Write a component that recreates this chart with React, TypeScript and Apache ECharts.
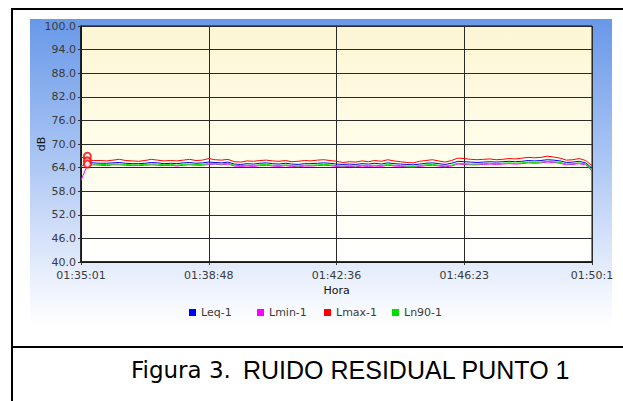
import React, { useEffect, useRef } from "react";
import * as echarts from "echarts";

const times = [
  "01:35:01", "01:35:12", "01:35:24", "01:35:35", "01:35:46", "01:35:58", "01:36:09", "01:36:21", "01:36:32", "01:36:43",
  "01:36:55", "01:37:06", "01:37:17", "01:37:29", "01:37:40", "01:37:51", "01:38:03", "01:38:14", "01:38:26", "01:38:37",
  "01:38:48", "01:39:00", "01:39:11", "01:39:22", "01:39:34", "01:39:45", "01:39:56", "01:40:08", "01:40:19", "01:40:31",
  "01:40:42", "01:40:53", "01:41:05", "01:41:16", "01:41:27", "01:41:39", "01:41:50", "01:42:01", "01:42:13", "01:42:24",
  "01:42:36", "01:42:47", "01:42:58", "01:43:10", "01:43:21", "01:43:32", "01:43:44", "01:43:55", "01:44:06", "01:44:18",
  "01:44:29", "01:44:40", "01:44:52", "01:45:03", "01:45:15", "01:45:26", "01:45:37", "01:45:49", "01:46:00", "01:46:11",
  "01:46:23", "01:46:34", "01:46:45", "01:46:57", "01:47:08", "01:47:20", "01:47:31", "01:47:42", "01:47:54", "01:48:05",
  "01:48:16", "01:48:28", "01:48:39", "01:48:50", "01:49:02", "01:49:13", "01:49:25", "01:49:36", "01:49:47", "01:49:59",
  "01:50:10",
];

const leq = [
  64.3, 65.3, 65.2, 65.1, 65.1, 65.2, 65.3, 65.1, 65.0, 65.0,
  65.1, 65.3, 65.2, 65.0, 65.1, 65.0, 65.2, 65.3, 65.1, 65.2,
  65.4, 65.3, 65.2, 65.4, 64.9, 64.8, 65.0, 64.9, 65.1, 65.2,
  65.0, 64.9, 65.1, 64.9, 64.8, 65.0, 65.0, 65.1, 65.2, 65.1,
  64.9, 64.8, 64.9, 64.8, 65.0, 64.9, 65.1, 64.9, 65.2, 65.0,
  64.9, 64.8, 64.7, 64.9, 65.1, 65.2, 65.0, 64.8, 65.1, 65.6,
  65.5, 65.4, 65.3, 65.4, 65.5, 65.4, 65.5, 65.6, 65.5, 65.6,
  65.8, 65.7, 65.8, 66.0, 65.9, 65.7, 65.3, 65.4, 65.6, 65.2,
  63.9,
];

const lmin = [
  60.8, 64.6, 64.7, 64.6, 64.5, 64.7, 64.7, 64.6, 64.5, 64.5,
  64.6, 64.7, 64.6, 64.5, 64.6, 64.4, 64.6, 64.7, 64.6, 64.6,
  64.8, 64.9, 64.7, 64.9, 64.4, 64.3, 64.4, 64.3, 64.5, 64.6,
  64.4, 64.3, 64.5, 64.3, 64.2, 64.4, 64.4, 64.5, 64.6, 64.5,
  64.3, 64.2, 64.3, 64.2, 64.4, 64.3, 64.4, 64.3, 64.6, 64.4,
  64.3, 64.2, 64.1, 64.3, 64.5, 64.6, 64.4, 64.2, 64.4, 64.9,
  64.8, 64.7, 64.7, 64.8, 64.9, 64.8, 64.9, 65.0, 64.9, 65.0,
  65.2, 65.1, 65.2, 65.4, 65.3, 65.1, 64.7, 64.8, 65.0, 64.7,
  63.1,
];

const lmax = [
  66.8, 65.9, 65.8, 65.8, 65.7, 65.9, 66.1, 65.8, 65.7, 65.6,
  65.8, 66.1, 65.9, 65.7, 65.8, 65.7, 65.9, 66.1, 65.8, 65.9,
  66.3, 66.0, 65.9, 66.1, 65.5, 65.4, 65.7, 65.6, 65.8, 65.9,
  65.7, 65.6, 65.8, 65.5, 65.6, 65.8, 65.7, 65.9, 66.0, 65.8,
  65.6, 65.3, 65.5, 65.4, 65.7, 65.5, 65.8, 65.6, 66.0, 65.7,
  65.5, 65.3, 65.2, 65.6, 65.8, 66.0, 65.7, 65.4, 65.8, 66.4,
  66.3, 66.1, 66.0, 66.1, 66.2, 66.0, 66.1, 66.3, 66.2, 66.4,
  66.6, 66.5, 66.6, 66.9, 66.7, 66.4, 65.9, 66.0, 66.3, 65.8,
  64.5,
];

const ln90 = [
  64.4, 64.9, 64.9, 64.8, 64.8, 64.9, 64.9, 64.8, 64.7, 64.7,
  64.8, 64.9, 64.9, 64.7, 64.8, 64.6, 64.8, 64.9, 64.8, 64.8,
  65.0, 65.0, 64.9, 65.1, 64.6, 64.5, 64.6, 64.5, 64.7, 64.8,
  64.6, 64.5, 64.7, 64.5, 64.4, 64.6, 64.6, 64.7, 64.8, 64.7,
  64.5, 64.4, 64.5, 64.4, 64.6, 64.5, 64.6, 64.5, 64.8, 64.6,
  64.5, 64.4, 64.3, 64.5, 64.7, 64.8, 64.6, 64.4, 64.6, 65.1,
  65.0, 64.9, 64.9, 65.0, 65.1, 65.0, 65.1, 65.2, 65.1, 65.2,
  65.4, 65.3, 65.4, 65.6, 65.5, 65.3, 64.9, 65.0, 65.2, 64.9,
  63.5,
];

// red open circles near the start of the record
const startMarkTime = "01:35:12";
const startMarks = [66.9, 65.7, 64.9];

const seriesNames = ["Leq-1", "Lmin-1", "Lmax-1", "Ln90-1"];
const seriesColors = ["#0000ff", "#ff00ff", "#ff0000", "#00e000"];
const legendLefts = [189, 257, 324, 392];

const Y_MIN = 40;
const Y_MAX = 100;
const Y_STEP = 6;

const FONT = "DejaVu Sans";

export default function App() {
  const ref = useRef<HTMLDivElement>(null);

  useEffect(() => {
    if (!ref.current) return;
    const chart = echarts.init(ref.current, undefined, { renderer: "svg" });
    const values = [leq, lmin, lmax, ln90];
    const lastIdx = times.length - 1;

    const option: any = {
      animation: false,
      backgroundColor: "#ffffff",
      graphic: [
        {
          type: "rect",
          z: -10,
          shape: { x: 30, y: 19, width: 582, height: 306 },
          style: {
            fill: new echarts.graphic.LinearGradient(0, 0, 0, 1, [
              { offset: 0, color: "#6898e8" },
              { offset: 0.45, color: "#a9c5f4" },
              { offset: 0.72, color: "#d6e2fa" },
              { offset: 0.88, color: "#eef3fd" },
              { offset: 1, color: "#ffffff" },
            ]),
          },
        },
        { type: "rect", z: 100, shape: { x: 11, y: 8, width: 612, height: 2 }, style: { fill: "#000" } },
        { type: "rect", z: 100, shape: { x: 11, y: 8, width: 2, height: 393 }, style: { fill: "#000" } },
        { type: "rect", z: 100, shape: { x: 11, y: 346, width: 612, height: 2 }, style: { fill: "#000" } },
        {
          type: "text",
          z: 100,
          x: 131,
          y: 370,
          style: {
            text: "Figura 3.",
            font: `23px '${FONT}'`,
            fill: "#000",
            verticalAlign: "middle",
          },
        },
        {
          type: "text",
          z: 100,
          x: 243,
          y: 370,
          style: {
            text: "RUIDO RESIDUAL PUNTO 1",
            font: "25px 'Liberation Sans'",
            fill: "#000",
            verticalAlign: "middle",
          },
        },
      ],
      legend: seriesNames.map((n, i) => ({
        data: [n],
        left: legendLefts[i],
        top: 307,
        padding: 0,
        itemGap: 0,
        itemWidth: 7,
        itemHeight: 7,
        icon: "rect",
        selectedMode: false,
        textStyle: { fontFamily: FONT, fontSize: 11, color: "#3a3a3a" },
      })),
      grid: {
        left: 81,
        top: 26,
        right: 31,
        bottom: 139,
        show: true,
        borderColor: "#111",
        borderWidth: 1,
        backgroundColor: new echarts.graphic.LinearGradient(0, 0, 0, 1, [
          { offset: 0, color: "#fdf6d4" },
          { offset: 0.5, color: "#fffde9" },
          { offset: 1, color: "#ffffff" },
        ]),
      },
      xAxis: {
        type: "category",
        data: times,
        boundaryGap: false,
        name: "Hora",
        nameLocation: "middle",
        nameGap: 23,
        nameMoveOverlap: false,
        nameTextStyle: { fontFamily: FONT, fontSize: 11, color: "#111" },
        axisLine: { lineStyle: { color: "#111", width: 1.5 } },
        axisTick: { show: true, interval: 19, length: 3, lineStyle: { color: "#333" } },
        axisLabel: {
          interval: 19,
          margin: 8,
          fontFamily: FONT,
          fontSize: 11,
          color: "#3a3a3a",
          showMaxLabel: true,
          // the last label is cut by the edge of the chart image in the original
          formatter: (v: string, idx: number) => (idx === lastIdx ? v.slice(0, 7) : v),
        },
        splitLine: { show: true, interval: 19, lineStyle: { color: "#2a2a2a", width: 1 } },
      },
      yAxis: {
        type: "value",
        min: Y_MIN,
        max: Y_MAX,
        interval: Y_STEP,
        name: "dB",
        nameLocation: "middle",
        nameGap: 34,
        nameMoveOverlap: false,
        nameTextStyle: { fontFamily: FONT, fontSize: 11, color: "#111" },
        axisLine: { show: true, lineStyle: { color: "#111", width: 1.5 } },
        axisTick: { show: true, length: 3, lineStyle: { color: "#333" } },
        axisLabel: {
          margin: 5,
          fontFamily: FONT,
          fontSize: 11,
          color: "#3a3a3a",
          formatter: (v: number) => v.toFixed(1),
        },
        splitLine: { show: true, lineStyle: { color: "#2a2a2a", width: 1 } },
      },
      series: [
        ...seriesNames.map((n, i) => ({
          name: n,
          type: "line",
          data: values[i],
          color: seriesColors[i],
          symbol: "none",
          lineStyle: { width: 1, color: seriesColors[i] },
        })),
        {
          name: "marks",
          type: "scatter",
          data: startMarks.map((v) => [startMarkTime, v]),
          symbol: "emptyCircle",
          symbolSize: 7,
          itemStyle: { color: "#ff0000", borderColor: "#ff0000", borderWidth: 1.5 },
          z: 5,
        },
      ],
    };

    chart.setOption(option);
    return () => chart.dispose();
  }, []);

  return (
    <div
      ref={ref}
      style={{ position: "fixed", left: 0, top: 0, width: 623, height: 401, background: "#fff" }}
    />
  );
}
